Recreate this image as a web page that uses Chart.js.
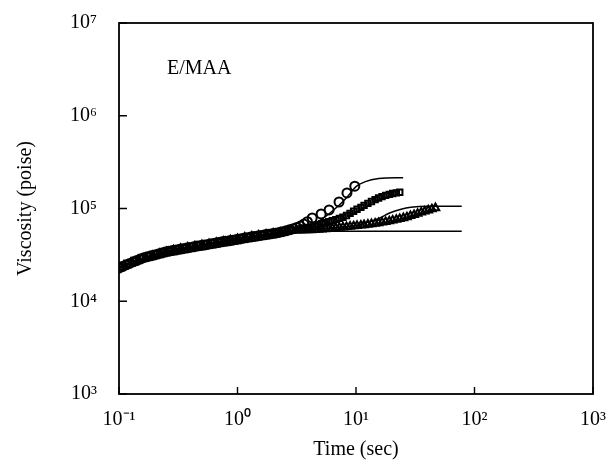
<!DOCTYPE html>
<html>
<head>
<meta charset="utf-8">
<script src="https://cdn.jsdelivr.net/npm/chart.js@4.4.1/dist/chart.umd.min.js"></script>
<style>
  html, body { margin: 0; padding: 0; background: #fff; }
  #wrap { width: 614px; height: 474px; }
</style>
</head>
<body>
<div id="wrap"><canvas id="viscChart" width="614" height="474"></canvas></div>
<script>
"use strict";

/*******************
   DATA
*******************/

var xTicks = [0.1, 1, 10, 100, 1000];
var yTicks = [1e3, 1e4, 1e5, 1e6, 1e7];
var xTickLabels = ['10⁻¹', '10⁰', '10¹', '10²', '10³'];
var yTickLabels = ['10³', '10⁴', '10⁵', '10⁶', '10⁷'];

// circles - fastest rising sample
var circleTime = [0.100, 0.107, 0.115, 0.123, 0.132, 0.141, 0.151, 0.162, 0.174, 0.186,
	0.200, 0.214, 0.229, 0.245, 0.263, 0.282, 0.302, 0.324, 0.347, 0.372,
	0.398, 0.427, 0.457, 0.490, 0.525, 0.562, 0.603, 0.646, 0.692, 0.741,
	0.794, 0.851, 0.912, 0.977, 1.05, 1.12, 1.20, 1.29, 1.38, 1.48,
	1.58, 1.70, 1.82, 1.95, 2.09, 2.24, 2.40, 2.57, 2.75, 2.95,
	3.16, 3.39, 3.63, 3.89, 4.27, 5.08, 5.93, 7.19, 8.39, 9.77];
var circleVisc = [22800, 23700, 24700, 25600, 26600, 27500, 28500, 29500, 30200, 30900,
	31600, 32400, 33100, 33900, 34500, 35200, 35700, 36300, 36900, 37500,
	38000, 38600, 39300, 39800, 40400, 41000, 41700, 42300, 43000, 43700,
	44300, 44900, 45500, 46200, 47000, 47900, 48500, 49200, 49900, 50600,
	51300, 52000, 52700, 53500, 54200, 55200, 56200, 57500, 58900, 60500,
	62400, 64600, 68000, 72000, 79000, 87300, 96400, 117500, 147000, 174000];

// squares - intermediate sample
var squareTime = [0.105, 0.120, 0.138, 0.158, 0.182, 0.209, 0.240, 0.275, 0.316, 0.363,
	0.417, 0.479, 0.550, 0.631, 0.724, 0.832, 0.955, 1.10, 1.26, 1.45,
	1.66, 1.91, 2.19, 2.51, 2.88, 3.39, 3.63, 3.89, 4.17, 4.47,
	4.79, 5.13, 5.50, 5.89, 6.31, 6.76, 7.24, 7.76, 8.32, 8.91,
	9.55, 10.2, 11.0, 11.7, 12.6, 13.5, 14.5, 15.5, 16.6, 17.8,
	19.1, 20.4, 21.9, 23.4];
var squareVisc = [23500, 25400, 27200, 29000, 30600, 32100, 33700, 35000, 36400, 37700,
	38900, 40000, 41200, 42400, 43900, 45100, 46500, 48300, 49700, 51000,
	52300, 53500, 55000, 56800, 58700, 60300, 61700, 62400, 63100, 64600,
	66500, 68500, 70500, 71900, 73800, 75900, 78200, 80400, 84100, 88700,
	93300, 98200, 102800, 107900, 113500, 118900, 124500, 129700, 134300, 138700,
	142200, 145200, 147200, 149600];

// triangles - slowest sample
var triTime = [0.110, 0.126, 0.145, 0.166, 0.191, 0.219, 0.251, 0.288, 0.331, 0.380,
	0.437, 0.501, 0.575, 0.661, 0.759, 0.871, 1.00, 1.15, 1.32, 1.51,
	1.74, 2.00, 2.29, 2.63, 2.88, 3.16, 3.39, 3.63, 3.89, 4.17,
	4.47, 4.79, 5.13, 5.50, 5.89, 6.31, 6.76, 7.24, 7.76, 8.32,
	8.91, 9.55, 10.2, 11.0, 11.7, 12.6, 13.5, 14.5, 15.5, 16.6,
	17.8, 19.1, 20.4, 21.9, 23.4, 25.1, 26.9, 28.8, 30.9, 33.1,
	35.5, 38.0, 40.7, 43.7, 46.8];
var triVisc = [24300, 26100, 27900, 29400, 31100, 32600, 34100, 35500, 36900, 38100,
	39300, 40400, 41600, 42900, 44200, 45500, 47000, 48700, 50000, 51400,
	52700, 54000, 55400, 57000, 57800, 58200, 58300, 58500, 58600, 58700,
	59000, 59300, 59700, 60100, 60500, 61100, 61700, 62200, 62800, 63400,
	64000, 64600, 65200, 65800, 66500, 67300, 68100, 68900, 69800, 70800,
	71900, 73100, 74500, 75900, 77400, 79100, 80900, 83200, 85500, 88100,
	90800, 93300, 95900, 98600, 101200];

// model curves (solid lines)
var fitTopTime = [0.1, 0.16, 0.3, 0.6, 1.1, 2.1, 3.5, 5, 7, 8.5, 10, 12, 15.6, 25];
var fitTopVisc = [23000, 29000, 35500, 41500, 48000, 54000, 62000, 75000, 105000, 135000, 172000, 195000, 210000, 215000];
var fitMidTime = [0.1, 0.16, 0.3, 0.6, 1.1, 2.1, 3.5, 6, 10, 12, 15.6, 19, 24, 29, 40, 78];
var fitMidVisc = [23000, 29000, 35500, 41500, 48000, 54000, 58500, 62000, 66000, 70000, 78000, 89000, 98000, 103000, 106000, 106000];
var fitLowTime = [0.1, 0.16, 0.3, 0.6, 1.1, 2.1, 3.5, 5, 10, 78];
var fitLowVisc = [23000, 29000, 35500, 41500, 48000, 54000, 56500, 57000, 57000, 57000];

/*******************
   HELPERS
*******************/

function toPoints(xs, ys) {
	var pts = [];
	for (var i = 0; i < xs.length; i++) {
		pts.push({ x: xs[i], y: ys[i] });
	}
	return pts;
}

function markerSet(xs, ys, style, radius) {
	return {
		data: toPoints(xs, ys),
		showLine: false,
		pointStyle: style,
		pointRadius: radius,
		pointBorderWidth: 2,
		pointBorderColor: '#000',
		pointBackgroundColor: 'rgba(255,255,255,0)'
	};
}

function lineSet(xs, ys) {
	return {
		data: toPoints(xs, ys),
		showLine: true,
		borderColor: '#000',
		borderWidth: 1.5,
		pointRadius: 0,
		cubicInterpolationMode: 'monotone'
	};
}

function noEdgePadding(scale) {
	scale.paddingLeft = 0;
	scale.paddingRight = 0;
	scale.paddingTop = 0;
	scale.paddingBottom = 0;
}

var serif = "'Liberation Serif', 'Times New Roman', serif";

// frame, inward tick marks and panel label
var framePlugin = {
	id: 'frame',
	afterDraw: function(chart) {
		var c = chart.ctx;
		var a = chart.chartArea;
		var xs = chart.scales.x;
		var ys = chart.scales.y;
		c.save();
		c.strokeStyle = '#000';
		c.lineWidth = 1.8;
		c.strokeRect(a.left, a.top, a.right - a.left, a.bottom - a.top);
		c.lineWidth = 1.4;
		c.beginPath();
		xTicks.forEach(function(v) {
			var px = xs.getPixelForValue(v);
			c.moveTo(px, a.bottom);
			c.lineTo(px, a.bottom - 7);
		});
		yTicks.forEach(function(v) {
			var py = ys.getPixelForValue(v);
			c.moveTo(a.left, py);
			c.lineTo(a.left + 8, py);
		});
		c.stroke();
		c.fillStyle = '#000';
		c.font = '20px ' + serif;
		c.textBaseline = 'middle';
		c.fillText('E/MAA', 167, 69);
		c.restore();
	}
};

/*******************
   CHART
*******************/

var ctx = document.getElementById('viscChart');

var viscChart = new Chart(ctx, {
	type: 'scatter',
	data: {
		datasets: [
			markerSet(circleTime, circleVisc, 'circle', 4.5),
			markerSet(squareTime, squareVisc, 'rect', 3.8),
			markerSet(triTime, triVisc, 'triangle', 4.4),
			lineSet(fitTopTime, fitTopVisc),
			lineSet(fitMidTime, fitMidVisc),
			lineSet(fitLowTime, fitLowVisc)
		]
	},
	plugins: [framePlugin],
	options: {
		responsive: false,
		animation: false,
		layout: { padding: { top: 23, right: 21, left: 0, bottom: 0 } },
		plugins: {
			legend: { display: false },
			tooltip: { enabled: false }
		},
		scales: {
			x: {
				type: 'logarithmic',
				min: 0.1,
				max: 1000,
				afterBuildTicks: function(scale) {
					scale.ticks = xTicks.map(function(v) { return { value: v }; });
				},
				afterFit: function(scale) {
					scale.height = 80;
					noEdgePadding(scale);
				},
				grid: { display: false, drawTicks: false },
				border: { display: false },
				ticks: {
					color: '#000',
					padding: 14,
					maxRotation: 0,
					autoSkip: false,
					font: { family: serif, size: 20 },
					callback: function(value) {
						var i = xTicks.indexOf(value);
						return i >= 0 ? xTickLabels[i] : '';
					}
				},
				title: {
					display: true,
					text: 'Time (sec)',
					color: '#000',
					font: { family: serif, size: 20 },
					padding: { top: 0, bottom: 12 }
				}
			},
			y: {
				type: 'logarithmic',
				min: 1e3,
				max: 1e7,
				afterBuildTicks: function(scale) {
					scale.ticks = yTicks.map(function(v) { return { value: v }; });
				},
				afterFit: function(scale) {
					scale.width = 119;
					noEdgePadding(scale);
				},
				grid: { display: false, drawTicks: false },
				border: { display: false },
				ticks: {
					color: '#000',
					padding: 22,
					autoSkip: false,
					font: { family: serif, size: 20 },
					callback: function(value) {
						var i = yTicks.indexOf(value);
						return i >= 0 ? yTickLabels[i] : '';
					}
				},
				title: {
					display: true,
					text: 'Viscosity (poise)',
					color: '#000',
					font: { family: serif, size: 20 },
					padding: { top: 14, bottom: 0 }
				}
			}
		}
	}
});
</script>
</body>
</html>
